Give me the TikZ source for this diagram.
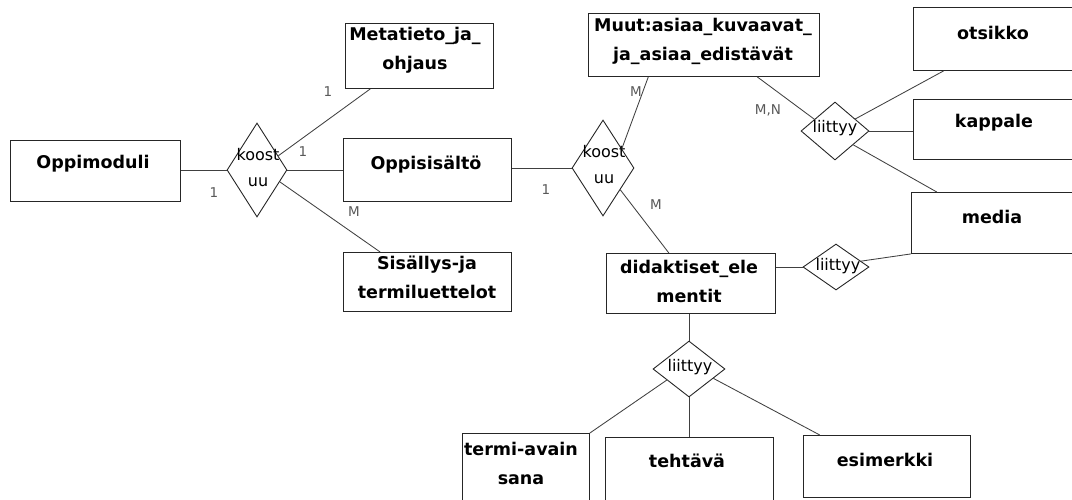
\documentclass[tikz,border=0pt]{standalone}
\usepackage{fontspec}
\setmainfont{DejaVu Sans}
\usetikzlibrary{shapes.geometric,calc}
\begin{document}
\begin{tikzpicture}[x=1pt,y=-1pt,
  entity/.style={draw=black!85, line width=0.9pt, rectangle, inner sep=0pt, anchor=north west},
  rel/.style={draw=black!85, line width=0.9pt, diamond, inner sep=0pt},
  etext/.style={font=\bfseries\fontsize{17.5}{29}\selectfont, align=center, inner sep=0pt},
  rtext/.style={font=\fontsize{16}{26}\selectfont, align=center, inner sep=0pt},
  card/.style={font=\fontsize{13.5}{15}\selectfont, text=black!65, inner sep=0pt},
  link/.style={draw=black!75, line width=0.85pt}]
\clip (0,0) rectangle (1072,499);

% entity boxes
\node[entity, minimum width=170pt, minimum height=61pt] (opm)  at (10,140) {};
\node[entity, minimum width=148pt, minimum height=65pt] (meta) at (345,23) {};
\node[entity, minimum width=168pt, minimum height=63pt] (ops)  at (343,138) {};
\node[entity, minimum width=168pt, minimum height=59pt] (sis)  at (343,252) {};
\node[entity, minimum width=231pt, minimum height=63pt] (muut) at (588,13) {};
\node[entity, minimum width=169pt, minimum height=60pt] (did)  at (606,253) {};
\node[entity, minimum width=169pt, minimum height=63pt] (ots)  at (913,7) {};
\node[entity, minimum width=169pt, minimum height=60pt] (kap)  at (913,99) {};
\node[entity, minimum width=171pt, minimum height=61pt] (med)  at (911,192) {};
\node[entity, minimum width=127pt, minimum height=80pt] (ter)  at (462,433) {};
\node[entity, minimum width=168pt, minimum height=76pt] (teh)  at (605,437) {};
\node[entity, minimum width=167pt, minimum height=62pt] (esi)  at (803,435) {};

% entity names
\node[etext] (opmT)  at (93,164)  {Oppimoduli};
\node[etext] (metaT) at (415,50)  {Metatieto\_ja\_\\ohjaus};
\node[etext] (opsT)  at (426,165) {Oppisisältö};
\node[etext] (sisT)  at (427,277) {Sisällys-ja\\termiluettelot};
\node[etext] (muutT) at (703,41)  {Muut:asiaa\_kuvaavat\_\\ja\_asiaa\_edistävät};
\node[etext] (didT)  at (689,281) {didaktiset\_ele\\mentit};
\node[etext] (otsT)  at (993,33)  {otsikko};
\node[etext] (kapT)  at (994,123) {kappale};
\node[etext] (medT)  at (992,217) {media};
\node[etext] (terT)  at (521,463) {termi-avain\\sana};
\node[etext] (tehT)  at (687,461) {tehtävä};
\node[etext] (esiT)  at (885,460) {esimerkki};

% relationship diamonds
\node[rel, minimum width=60pt, minimum height=94pt] (k1) at (257,170) {};
\node[rel, minimum width=62pt, minimum height=96pt] (k2) at (603,168) {};
\node[rel, minimum width=68pt, minimum height=58pt] (l1) at (835,131) {};
\node[rel, minimum width=66pt, minimum height=46pt] (l2) at (836,267) {};
\node[rel, minimum width=72pt, minimum height=56pt] (l3) at (689,369) {};

\node[rtext] (k1T) at (258,168) {koost\\uu};
\node[rtext] (k2T) at (604,165) {koost\\uu};
\node[rtext] (l1T) at (835,128) {liittyy};
\node[rtext] (l2T) at (838,266) {liittyy};
\node[rtext] (l3T) at (690,367) {liittyy};

% connectors
\draw[link] (opm.east |- k1.west) -- (k1.west);
\draw[link] (k1.east) -- (k1.east -| ops.west);
\draw[link] ($(k1.north)!0.7!(k1.east)$) -- ($(meta.south west)!0.17!(meta.south east)$);
\draw[link] ($(k1.east)!0.25!(k1.south)$) -- ($(sis.north west)!0.22!(sis.north east)$);
\draw[link] (k2.west -| ops.east) -- (k2.west);
\draw[link] ($(k2.north)!0.6!(k2.east)$) -- ($(muut.south west)!0.26!(muut.south east)$);
\draw[link] ($(k2.east)!0.45!(k2.south)$) -- ($(did.north west)!0.37!(did.north east)$);
\draw[link] ($(muut.south west)!0.73!(muut.south east)$) -- ($(l1.west)!0.4!(l1.north)$);
\draw[link] ($(l1.north)!0.59!(l1.east)$) -- ($(ots.south west)!0.18!(ots.south east)$);
\draw[link] (l1.east) -- (l1.east -| kap.west);
\draw[link] ($(l1.east)!0.47!(l1.south)$) -- ($(med.north west)!0.15!(med.north east)$);
\draw[link] (l2.west -| did.east) -- (l2.west);
\draw[link] ($(l2.north)!0.75!(l2.east)$) -- (med.south west);
\draw[link] (did.south -| l3.north) -- (l3.north);
\draw[link] (l3.south) -- (l3.south |- teh.north);
\draw[link] ($(l3.south)!0.61!(l3.west)$) -- (ter.north east);
\draw[link] ($(l3.south)!0.67!(l3.east)$) -- ($(esi.north west)!0.1!(esi.north east)$);

% cardinalities
\node[card] (c1) at (214,193) {1};
\node[card] (c2) at (303,152) {1};
\node[card] (c3) at (328,92)  {1};
\node[card] (c4) at (354,212) {M};
\node[card] (c5) at (546,190) {1};
\node[card] (c6) at (636,92)  {M};
\node[card] (c7) at (656,205) {M};
\node[card] (c8) at (768,110) {M,N};
\end{tikzpicture}
\end{document}
